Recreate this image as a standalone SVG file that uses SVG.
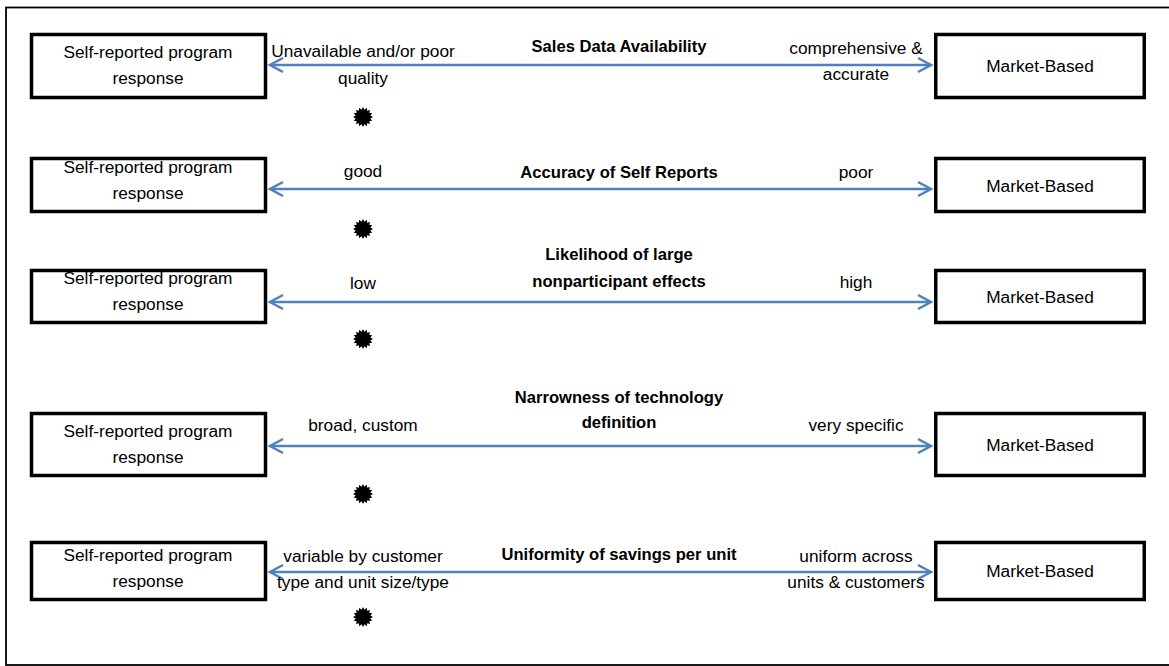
<svg xmlns="http://www.w3.org/2000/svg" width="1169" height="666" viewBox="0 0 1169 666">
<style>
  text { font-family: "Liberation Sans", Arial, sans-serif; font-size: 17.3px; fill: #000; text-anchor: middle; }
  text.t { font-weight: bold; font-size: 16.6px; }
  .box { fill: #fff; stroke: #000; stroke-width: 3.5; }
  .arr { stroke: #4F81BD; stroke-width: 2.5; fill: none; marker-start: url(#head); marker-end: url(#head); }
</style>
<defs>
  <marker id="head" viewBox="-15 -9 18 18" markerWidth="18" markerHeight="18" refX="0" refY="0" orient="auto-start-reverse" markerUnits="userSpaceOnUse">
    <path d="M-13,-7 L0,0 L-13,7" fill="none" stroke="#4F81BD" stroke-width="2.5"/>
  </marker>
  <polygon id="star" fill="#000" points="10,0 7.356,1.463 9.239,3.827 6.236,4.167 7.071,7.071 4.167,6.236 3.827,9.239 1.463,7.356 0,10 -1.463,7.356 -3.827,9.239 -4.167,6.236 -7.071,7.071 -6.236,4.167 -9.239,3.827 -7.356,1.463 -10,0 -7.356,-1.463 -9.239,-3.827 -6.236,-4.167 -7.071,-7.071 -4.167,-6.236 -3.827,-9.239 -1.463,-7.356 0,-10 1.463,-7.356 3.827,-9.239 4.167,-6.236 7.071,-7.071 6.236,-4.167 9.239,-3.827 7.356,-1.463"/>
</defs>
<rect x="0" y="0" width="1169" height="666" fill="#fff"/>
<rect id="frame" x="6" y="7.5" width="1175" height="657.5" fill="none" stroke="#000" stroke-width="1.8"/>

<g id="connectors">
  <line class="arr" x1="270" y1="65" x2="931" y2="65"/>
  <line class="arr" x1="270" y1="189" x2="931" y2="189"/>
  <line class="arr" x1="270" y1="302" x2="931" y2="302"/>
  <line class="arr" x1="270" y1="446" x2="931" y2="446"/>
  <line class="arr" x1="270" y1="572" x2="931" y2="572"/>
</g>

<g id="row1-self">
  <rect class="box" x="31.5" y="34.5" width="234" height="63"/>
  <text x="148" y="58">Self-reported program</text>
  <text x="148" y="84">response</text>
</g>
<g id="row1-market">
  <rect class="box" x="935.75" y="34.5" width="208.5" height="63"/>
  <text x="1040" y="72">Market-Based</text>
</g>
<g id="row1-labels">
  <text class="t" x="619" y="52">Sales Data Availability</text>
  <text x="363" y="57">Unavailable and/or poor</text>
  <text x="363" y="84">quality</text>
  <text x="856" y="54">comprehensive &amp;</text>
  <text x="856" y="80">accurate</text>
</g>

<g id="row2-self">
  <rect class="box" x="31.5" y="158.5" width="234" height="53"/>
  <text x="148" y="173">Self-reported program</text>
  <text x="148" y="199">response</text>
</g>
<g id="row2-market">
  <rect class="box" x="935.75" y="158.5" width="208.5" height="53"/>
  <text x="1040" y="192">Market-Based</text>
</g>
<g id="row2-labels">
  <text class="t" x="619" y="178">Accuracy of Self Reports</text>
  <text x="363" y="177">good</text>
  <text x="856" y="178">poor</text>
</g>

<g id="row3-self">
  <rect class="box" x="31.5" y="270.5" width="234" height="52"/>
  <text x="148" y="284">Self-reported program</text>
  <text x="148" y="310">response</text>
</g>
<g id="row3-market">
  <rect class="box" x="935.75" y="270.5" width="208.5" height="52"/>
  <text x="1040" y="303">Market-Based</text>
</g>
<g id="row3-labels">
  <text class="t" x="619" y="260">Likelihood of large</text>
  <text class="t" x="619" y="287">nonparticipant effects</text>
  <text x="363" y="289">low</text>
  <text x="856" y="288">high</text>
</g>

<g id="row4-self">
  <rect class="box" x="31.5" y="413.5" width="234" height="62"/>
  <text x="148" y="437">Self-reported program</text>
  <text x="148" y="463">response</text>
</g>
<g id="row4-market">
  <rect class="box" x="935.75" y="413.5" width="208.5" height="62"/>
  <text x="1040" y="451">Market-Based</text>
</g>
<g id="row4-labels">
  <text class="t" x="619" y="403">Narrowness of technology</text>
  <text class="t" x="619" y="428">definition</text>
  <text x="363" y="431">broad, custom</text>
  <text x="856" y="431">very specific</text>
</g>

<g id="row5-self">
  <rect class="box" x="31.5" y="542.5" width="234" height="57"/>
  <text x="148" y="561">Self-reported program</text>
  <text x="148" y="587">response</text>
</g>
<g id="row5-market">
  <rect class="box" x="935.75" y="542.5" width="208.5" height="57"/>
  <text x="1040" y="577">Market-Based</text>
</g>
<g id="row5-labels">
  <text class="t" x="619" y="560">Uniformity of savings per unit</text>
  <text x="363" y="562">variable by customer</text>
  <text x="363" y="588">type and unit size/type</text>
  <text x="856" y="562">uniform across</text>
  <text x="856" y="588">units &amp; customers</text>
</g>

<g id="stars">
  <use href="#star" x="363" y="117"/>
  <use href="#star" x="363" y="229"/>
  <use href="#star" x="363" y="339"/>
  <use href="#star" x="363" y="494"/>
  <use href="#star" x="363" y="617"/>
</g>
</svg>
